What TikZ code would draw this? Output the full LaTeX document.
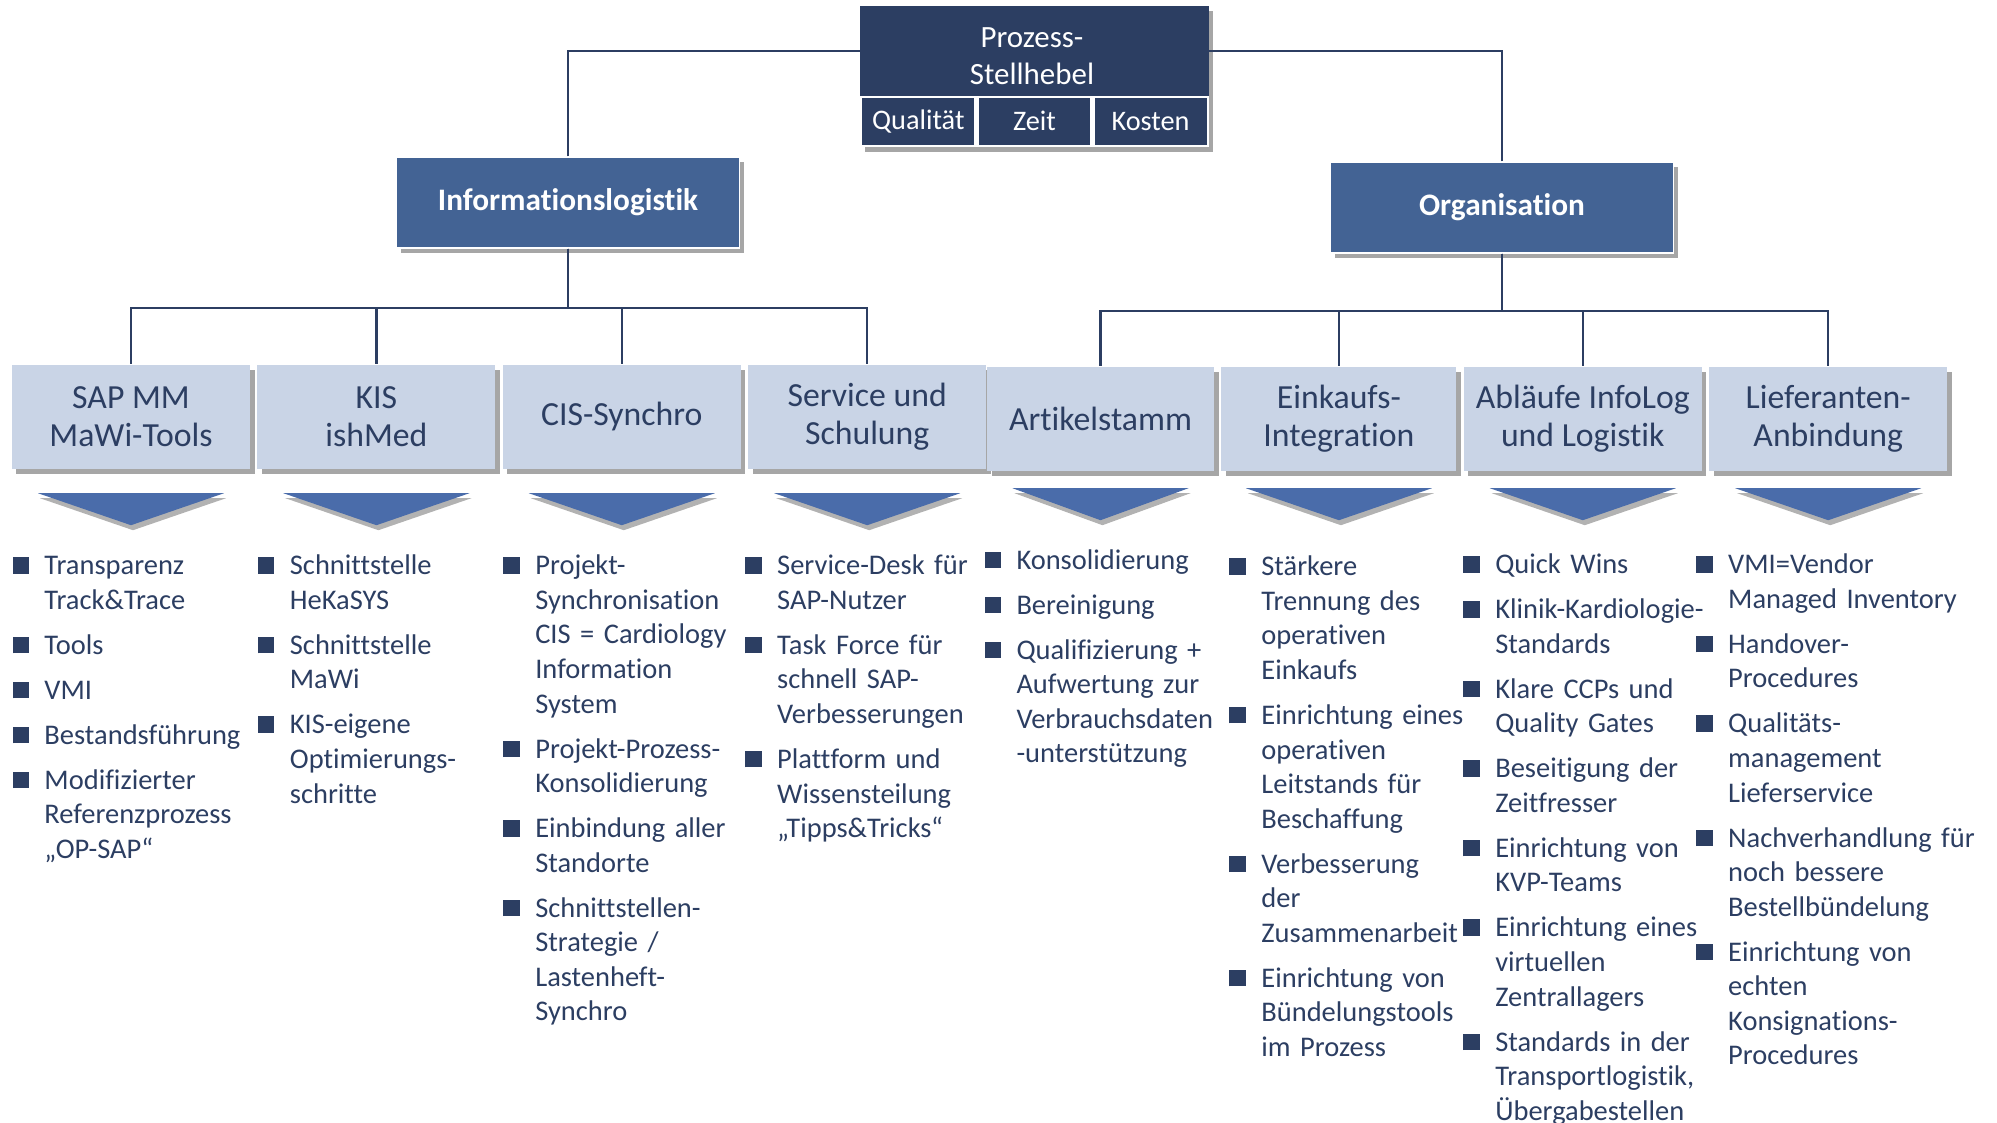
\documentclass[tikz,border=0pt]{standalone}
\usepackage{fontspec}
\setmainfont{Carlito}[Ligatures=NoCommon]
\usepackage{tikz}
\usetikzlibrary{positioning,calc,shadows,backgrounds}
\usepackage{xcolor}
\definecolor{HebelNavy}{HTML}{2C3E62}
\definecolor{HebelBlau}{HTML}{436394}
\definecolor{HebelHell}{HTML}{C9D4E6}
\definecolor{HebelPfeil}{HTML}{4A6CAA}
\newcommand{\punkt}{\leavevmode\llap{\textcolor{HebelNavy}{\rule[0.1mm]{1.65mm}{1.65mm}}\hspace{1.55mm}}}

\begin{document}
\begin{tikzpicture}[x=1mm, y=1mm, node distance=0.6mm,
    schatten/.style={drop shadow={shadow xshift=0.45mm, shadow yshift=-0.5mm, fill=black, opacity=0.35}},
    kopfbox/.style={fill=HebelNavy, text=white, minimum width=34.2mm, minimum height=8.8mm, inner sep=0pt, align=center, font=\fontsize{8.8}{10.7}\selectfont},
    zelle/.style={draw=white, line width=0.6pt, fill=HebelNavy, text=white, minimum width=11.4mm, minimum height=4.9mm, inner sep=0pt, font=\fontsize{8.05}{9.8}\selectfont},
    bereich/.style={fill=HebelBlau, draw=white, line width=0.4pt, text=white, minimum width=34.3mm, minimum height=9.1mm, font=\fontsize{8.9}{10.8}\selectfont\bfseries, schatten},
    hebel/.style={fill=HebelHell, text=HebelNavy, minimum width=23.8mm, minimum height=10.4mm, inner sep=0pt, align=center, font=\fontsize{9.6}{10.7}\selectfont, schatten},
    pfeil/.style={fill=HebelPfeil, drop shadow={shadow xshift=0.2mm, shadow yshift=-0.5mm, fill=black, opacity=0.3}},
    liste/.style={anchor=base west, text width=28mm, align=left, inner sep=0pt, text=HebelNavy, font=\fontsize{8.1}{9.84}\selectfont, execute at begin node={\setlength{\parskip}{1.04mm}}},
    linie/.style={draw=HebelNavy, line width=0.65pt}]
  \useasboundingbox (0,0) rectangle (199.7,-112.2);

  % Stellhebel oben
  \node[kopfbox] (kopf) at (103.2,-5.1) {\rule{0pt}{3.0mm}Prozess-\\Stellhebel};
  \node[zelle, anchor=north west] (quali) at (kopf.south west) {Qualität};
  \node[zelle, right=0mm of quali] (zeit) {Zeit};
  \node[zelle, right=0mm of zeit] (kosten) {Kosten};
  \begin{scope}[on background layer]
    \path[fill=HebelNavy, schatten] (kopf.north west) rectangle (kosten.south east);
  \end{scope}

  \node[bereich] (info) at (56.8,-20.25) {Informationslogistik};
  \node[bereich] (orga) at (150.2,-20.75) {Organisation};
  \draw[linie] (info.north) |- (kopf.west);
  \draw[linie] (orga.north) |- (kopf.east);

  % Hebel
  \node[hebel] (sap) at (13.1,-41.65) {SAP MM\\MaWi-Tools};
  \node[hebel, right=of sap] (kis) {KIS\\ishMed};
  \node[hebel, right=of kis] (cis) {CIS-Synchro};
  \node[hebel, right=of cis] (service) {Service und\\Schulung};
  \node[hebel, minimum width=22.7mm] (artikel) at (110.05,-41.85) {Artikelstamm};
  \node[hebel, minimum width=23.5mm, right=of artikel] (einkauf) {Einkaufs-\\Integration};
  \node[hebel, right=of einkauf] (ablauf) {Abläufe InfoLog\\und Logistik};
  \node[hebel, right=of ablauf] (liefer) {Lieferanten-\\Anbindung};

  \coordinate (busL) at ($(info.south)+(0,-5.9)$);
  \coordinate (busR) at ($(orga.south)+(0,-5.7)$);
  \foreach \b in {sap,kis,cis,service}
    \draw[linie] (info.south) -- (busL) -| (\b.north);
  \foreach \b in {artikel,einkauf,ablauf,liefer}
    \draw[linie] (orga.south) -- (busR) -| (\b.north);

  \foreach \b/\w/\g in {sap/18.6/2.4, kis/18.6/2.4, cis/18.6/2.4, service/18.6/2.4, artikel/17.6/1.7, einkauf/18.6/1.7, ablauf/18.6/1.7, liefer/18.6/1.7}
    \fill[pfeil] ($(\b.south)+(-\w/2,-\g)$) -- ++(\w,0) -- ($(\b.south)+(0,-\g-3.2)$) -- cycle;

  % Massnahmen
  \node[liste] (l1) at ($(sap.south west)+(3.25,-10.55)$) {%
    \punkt Transparenz\\Track\&Trace\par
    \punkt Tools\par
    \punkt VMI\par
    \punkt Bestandsführung\par
    \punkt Modifizierter\\Referenzprozess\\„OP-SAP“};
  \node[liste] (l2) at ($(kis.south west)+(3.25,-10.55)$) {%
    \punkt Schnittstelle\\HeKaSYS\par
    \punkt Schnittstelle\\MaWi\par
    \punkt KIS-eigene\\Optimierungs-\\schritte};
  \node[liste] (l3) at ($(cis.south west)+(3.25,-10.55)$) {%
    \punkt Projekt-\\Synchronisation\\CIS = Cardiology\\Information\\System\par
    \punkt Projekt-Prozess-\\Konsolidierung\par
    \punkt Einbindung aller\\Standorte\par
    \punkt Schnittstellen-\\Strategie /\\Lastenheft-\\Synchro};
  \node[liste] (l4) at ($(service.south west)+(2.9,-10.55)$) {%
    \punkt Service-Desk für\\SAP-Nutzer\par
    \punkt Task Force für\\schnell SAP-\\Verbesserungen\par
    \punkt Plattform und\\Wissensteilung\\„Tipps\&Tricks“};
  \node[liste] (l5) at ($(artikel.south west)+(2.95,-9.8)$) {%
    \punkt Konsolidierung\par
    \punkt Bereinigung\par
    \punkt Qualifizierung +\\Aufwertung zur\\Verbrauchsdaten\\-unterstützung};
  \node[liste] (l6) at ($(einkauf.south west)+(4.0,-10.45)$) {%
    \punkt Stärkere\\Trennung des\\operativen\\Einkaufs\par
    \punkt Einrichtung eines\\operativen\\Leitstands für\\Beschaffung\par
    \punkt Verbesserung\\der\\Zusammenarbeit\par
    \punkt Einrichtung von\\Bündelungstools\\im Prozess};
  \node[liste] (l7) at ($(ablauf.south west)+(3.15,-10.25)$) {%
    \punkt Quick Wins\par
    \punkt Klinik-Kardiologie-\\Standards\par
    \punkt Klare CCPs und\\Quality Gates\par
    \punkt Beseitigung der\\Zeitfresser\par
    \punkt Einrichtung von\\KVP-Teams\par
    \punkt Einrichtung eines\\virtuellen\\Zentrallagers\par
    \punkt Standards in der\\Transportlogistik,\\Übergabestellen};
  \node[liste] (l8) at ($(liefer.south west)+(1.9,-10.25)$) {%
    \punkt VMI=Vendor\\Managed Inventory\par
    \punkt Handover-\\Procedures\par
    \punkt Qualitäts-\\management\\Lieferservice\par
    \punkt Nachverhandlung für\\noch bessere\\Bestellbündelung\par
    \punkt Einrichtung von\\echten\\Konsignations-\\Procedures};
\end{tikzpicture}
\end{document}
